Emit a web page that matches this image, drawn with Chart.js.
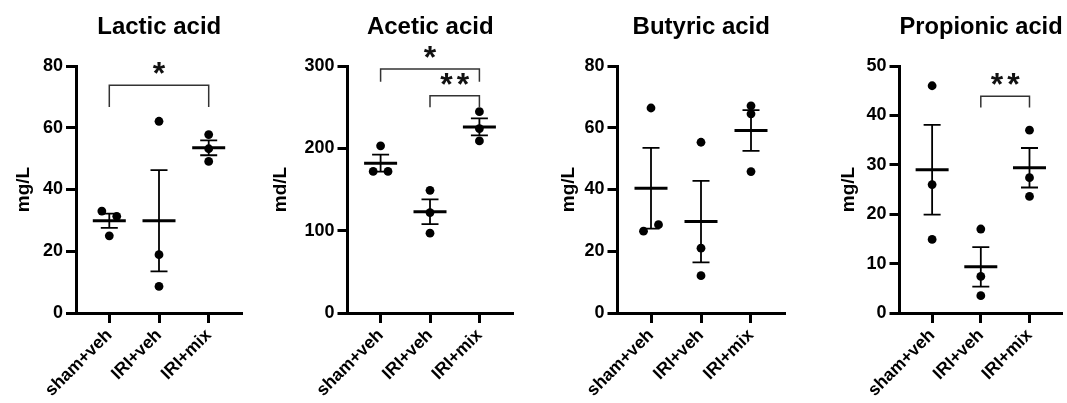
<!DOCTYPE html>
<html>
<head>
<meta charset="utf-8">
<script src="https://cdn.jsdelivr.net/npm/chart.js@4.4.0/dist/chart.umd.min.js"></script>
<style>
    html, body { margin: 0; padding: 0; background: #fff; }
    #wrap { position: relative; width: 1067px; height: 403px; overflow: hidden; }
    #wrap canvas { position: absolute; top: 0; }
</style>
</head>
<body>
<div id="wrap">
    <canvas id="c0" width="265" height="403" style="left:0px"></canvas>
    <canvas id="c1" width="265" height="403" style="left:265px"></canvas>
    <canvas id="c2" width="265" height="403" style="left:530px"></canvas>
    <canvas id="c3" width="272" height="403" style="left:795px"></canvas>
</div>
<script>
// groups on the x axis
const groups = ['sham+veh', 'IRI+veh', 'IRI+mix'];

// individual values, mean and SEM per group
const lacticValues = [[33.0, 31.3, 25.0], [62.1, 18.9, 8.6], [57.8, 53.2, 49.1]];
const lacticMean = [29.9, 29.9, 53.5];
const lacticSem = [2.3, 16.4, 2.4];
const lacticSig = [{ from: 0, to: 2, level: 73.8, foot: 66.7, label: '*' }];

const aceticValues = [[203, 172, 172], [149, 122, 97], [244.5, 224, 209]];
const aceticMean = [182, 123, 226];
const aceticSem = [10.3, 15, 10.3];
const aceticSig = [
    { from: 0, to: 2, level: 296.4, foot: 281, label: '*' },
    { from: 1, to: 2, level: 264, foot: 250, label: '**' }
];

const butyricValues = [[66.4, 26.5, 28.6], [55.3, 21.0, 12.1], [67.1, 64.5, 45.8]];
const butyricMean = [40.4, 29.6, 59.1];
const butyricSem = [13.1, 13.2, 6.6];
const butyricSig = [];

const propionicValues = [[46.0, 26.0, 14.9], [17.0, 7.4, 3.5], [37.0, 27.4, 23.6]];
const propionicMean = [29.0, 9.35, 29.4];
const propionicSem = [9.1, 4.0, 4.0];
const propionicSig = [{ from: 1, to: 2, level: 43.9, foot: 41.6, label: '**' }];

const FONT = "'Liberation Sans', Arial, sans-serif";

const panels = [
    { canvas: 'c0', title: 'Lactic acid', yTitle: 'mg/L', yMax: 80, yStep: 20,
      values: lacticValues, mean: lacticMean, sem: lacticSem, sig: lacticSig,
      padLeft: 12, axisLeft: 76, padRight: 22.5 },
    { canvas: 'c1', title: 'Acetic acid', yTitle: 'md/L', yMax: 300, yStep: 100,
      values: aceticValues, mean: aceticMean, sem: aceticSem, sig: aceticSig,
      padLeft: 4, axisLeft: 82.5, padRight: 17 },
    { canvas: 'c2', title: 'Butyric acid', yTitle: 'mg/L', yMax: 80, yStep: 20,
      values: butyricValues, mean: butyricMean, sem: butyricSem, sig: butyricSig,
      padLeft: 27, axisLeft: 87.5, padRight: 10 },
    { canvas: 'c3', title: 'Propionic acid', yTitle: 'mg/L', yMax: 50, yStep: 10,
      values: propionicValues, mean: propionicMean, sem: propionicSem, sig: propionicSig,
      padLeft: 42, axisLeft: 104.5, padRight: 2 }
];

// spread points that would overlap, like a small beeswarm
function swarmPoints(values, yMax) {
    const near = 7 / 247 * yMax;
    const pts = [];
    values.forEach(function (list, g) {
        const shift = list.map(function () { return 0; });
        for (let i = 0; i < list.length; i++) {
            for (let j = i + 1; j < list.length; j++) {
                if (shift[i] === 0 && shift[j] === 0 && Math.abs(list[i] - list[j]) < near) {
                    shift[i] = -0.15;
                    shift[j] = 0.15;
                }
            }
        }
        list.forEach(function (v, k) {
            pts.push({ x: g + 1 + shift[k], y: v });
        });
    });
    return pts;
}

const meanSemPlugin = {
    id: 'meanSem',
    beforeDatasetsDraw(chart, args, opts) {
        const ctx = chart.ctx;
        const xs = chart.scales.x, ys = chart.scales.y;
        ctx.save();
        ctx.strokeStyle = '#000';
        ctx.lineCap = 'butt';
        opts.mean.forEach(function (m, i) {
            const x = xs.getPixelForValue(i + 1);
            const yM = ys.getPixelForValue(m);
            const yHi = ys.getPixelForValue(m + opts.sem[i]);
            const yLo = ys.getPixelForValue(m - opts.sem[i]);
            ctx.lineWidth = 1.8;
            ctx.beginPath();
            ctx.moveTo(x, yHi); ctx.lineTo(x, yLo);
            ctx.moveTo(x - 8.5, yHi); ctx.lineTo(x + 8.5, yHi);
            ctx.moveTo(x - 8.5, yLo); ctx.lineTo(x + 8.5, yLo);
            ctx.stroke();
            ctx.lineWidth = 3;
            ctx.beginPath();
            ctx.moveTo(x - 16.5, yM); ctx.lineTo(x + 16.5, yM);
            ctx.stroke();
        });
        ctx.restore();
    }
};

const bracketPlugin = {
    id: 'brackets',
    afterDraw(chart, args, opts) {
        const ctx = chart.ctx;
        const xs = chart.scales.x, ys = chart.scales.y;
        ctx.save();
        opts.sig.forEach(function (s) {
            const x1 = xs.getPixelForValue(s.from + 1);
            const x2 = xs.getPixelForValue(s.to + 1);
            const yTop = ys.getPixelForValue(s.level);
            const yFoot = ys.getPixelForValue(s.foot);
            ctx.strokeStyle = '#333';
            ctx.lineWidth = 1.5;
            ctx.beginPath();
            ctx.moveTo(x1, yFoot);
            ctx.lineTo(x1, yTop);
            ctx.lineTo(x2, yTop);
            ctx.lineTo(x2, yFoot);
            ctx.stroke();
            ctx.fillStyle = '#111';
            ctx.font = 'bold 32px ' + FONT;
            ctx.letterSpacing = '4px';
            ctx.textAlign = 'center';
            ctx.textBaseline = 'alphabetic';
            ctx.fillText(s.label, (x1 + x2) / 2 + (s.label.length > 1 ? 2 : 2), yTop - 1);
        });
        ctx.restore();
    }
};

panels.forEach(function (p) {
    const el = document.getElementById(p.canvas);
    new Chart(el.getContext('2d'), {
        type: 'scatter',
        data: {
            datasets: [{
                data: swarmPoints(p.values, p.yMax),
                backgroundColor: '#000',
                borderWidth: 0,
                pointRadius: 4.4,
                pointHoverRadius: 4.4
            }]
        },
        plugins: [meanSemPlugin, bracketPlugin],
        options: {
            responsive: false,
            animation: false,
            events: [],
            layout: { padding: { left: p.padLeft, right: p.padRight, top: 0, bottom: 0 } },
            scales: {
                x: {
                    type: 'linear',
                    min: 0.33,
                    max: 3.68,
                    afterBuildTicks: function (scale) {
                        scale.ticks = [1, 2, 3].map(function (v) { return { value: v }; });
                    },
                    afterFit: function (scale) { scale.height = 90; },
                    border: { display: true, color: '#000', width: 3 },
                    grid: { display: true, drawOnChartArea: false, drawTicks: true,
                            tickLength: 10, tickWidth: 3, tickColor: '#000' },
                    ticks: {
                        autoSkip: false,
                        minRotation: 45,
                        maxRotation: 45,
                        padding: 2,
                        color: '#000',
                        font: { family: FONT, size: 17.5, weight: 'bold' },
                        callback: function (value) { return groups[value - 1]; }
                    }
                },
                y: {
                    min: 0,
                    max: p.yMax,
                    afterFit: function (scale) { scale.width = p.axisLeft - p.padLeft; },
                    border: { display: true, color: '#000', width: 3 },
                    grid: { display: true, drawOnChartArea: false, drawTicks: true,
                            tickLength: 10, tickWidth: 3, tickColor: '#000' },
                    ticks: {
                        stepSize: p.yStep,
                        padding: 3,
                        color: '#000',
                        font: { family: FONT, size: 18, weight: 'bold' }
                    },
                    title: {
                        display: true,
                        text: p.yTitle,
                        color: '#000',
                        padding: { top: 0, bottom: 0 },
                        font: { family: FONT, size: 19, weight: 'bold', lineHeight: 1.2 }
                    }
                }
            },
            plugins: {
                legend: { display: false },
                tooltip: { enabled: false },
                title: {
                    display: true,
                    text: p.title,
                    fullSize: false,
                    color: '#000',
                    padding: { top: 13, bottom: 24.2 },
                    font: { family: FONT, size: 24, weight: 'bold', lineHeight: 1.2 }
                },
                meanSem: { mean: p.mean, sem: p.sem },
                brackets: { sig: p.sig }
            }
        }
    });
});
</script>
</body>
</html>
